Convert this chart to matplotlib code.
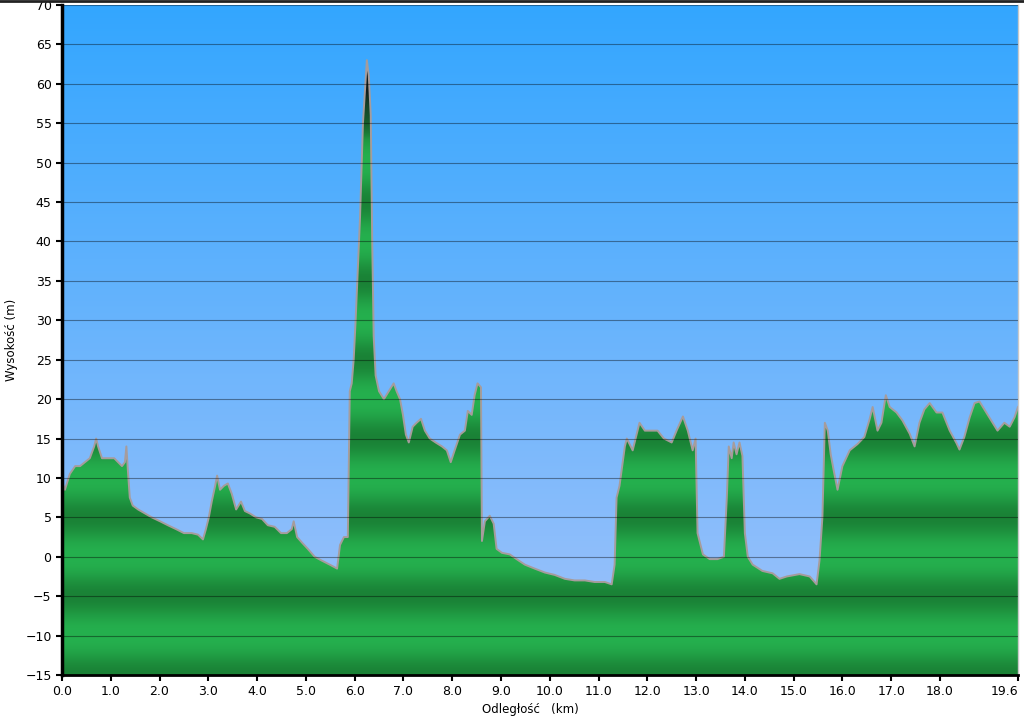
import numpy as np
import matplotlib
matplotlib.use("Agg")
import matplotlib.pyplot as plt
from matplotlib.colors import LinearSegmentedColormap, to_rgb
from matplotlib.patches import Polygon
from matplotlib.lines import Line2D

# profile: distance (km) and elevation (m)
dist_km = [
    0.00, 0.06, 0.16, 0.27, 0.37, 0.47, 0.57, 0.66, 0.70, 0.74, 0.82, 0.90, 0.98,
    1.07, 1.15, 1.23, 1.29, 1.32, 1.35, 1.39, 1.45, 1.56, 1.70, 1.84, 2.01, 2.17,
    2.34, 2.50, 2.66, 2.79, 2.89, 2.95, 3.01, 3.07, 3.14, 3.18, 3.24, 3.32, 3.40,
    3.48, 3.57, 3.67, 3.75, 3.85, 3.98, 4.10, 4.22, 4.36, 4.49, 4.61, 4.71, 4.75,
    4.82, 4.92, 5.04, 5.18, 5.33, 5.49, 5.64, 5.70, 5.78, 5.86, 5.90, 5.94, 5.98,
    6.02, 6.11, 6.17, 6.23, 6.25, 6.29, 6.33, 6.36, 6.39, 6.43, 6.50, 6.60, 6.70,
    6.80, 6.86, 6.93, 6.99, 7.05, 7.11, 7.19, 7.27, 7.36, 7.44, 7.54, 7.66, 7.79,
    7.89, 7.97, 8.05, 8.16, 8.26, 8.32, 8.40, 8.46, 8.52, 8.59, 8.61, 8.67, 8.77,
    8.85, 8.91, 9.02, 9.18, 9.32, 9.49, 9.69, 9.90, 10.10, 10.31, 10.51, 10.72,
    10.92, 11.13, 11.27, 11.33, 11.37, 11.43, 11.54, 11.58, 11.70, 11.84, 11.95,
    12.09, 12.21, 12.34, 12.50, 12.60, 12.73, 12.83, 12.93, 12.99, 13.03, 13.14,
    13.28, 13.44, 13.57, 13.63, 13.67, 13.73, 13.77, 13.83, 13.89, 13.95, 14.00,
    14.06, 14.16, 14.36, 14.57, 14.71, 14.86, 15.12, 15.33, 15.47, 15.53, 15.59,
    15.64, 15.70, 15.76, 15.82, 15.90, 16.00, 16.15, 16.31, 16.45, 16.56, 16.62,
    16.72, 16.80, 16.89, 16.97, 17.11, 17.23, 17.38, 17.48, 17.58, 17.68, 17.79,
    17.93, 18.05, 18.20, 18.34, 18.40, 18.50, 18.61, 18.71, 18.81, 18.95, 19.08,
    19.18, 19.32, 19.43, 19.53, 19.60,
]
elev_m = [
    9.5, 8.5, 10.5, 11.5, 11.5, 12.0, 12.5, 14.0, 15.0, 14.0, 12.5, 12.5, 12.5,
    12.5, 12.0, 11.5, 12.0, 14.0, 11.0, 7.5, 6.5, 6.0, 5.5, 5.0, 4.5, 4.0,
    3.5, 3.0, 3.0, 2.8, 2.2, 3.5, 5.0, 7.0, 9.0, 10.3, 8.5, 9.0, 9.3,
    8.0, 6.0, 7.0, 5.8, 5.5, 5.0, 4.8, 4.0, 3.8, 3.0, 3.0, 3.5, 4.5,
    2.5, 1.8, 1.0, 0.0, -0.5, -1.0, -1.5, 1.5, 2.5, 2.5, 21.0, 22.0, 25.0,
    30.0, 43.0, 55.0, 61.0, 63.0, 61.0, 56.0, 40.0, 28.0, 23.0, 21.0, 20.0, 21.0,
    22.0, 21.0, 20.0, 18.0, 15.5, 14.5, 16.5, 17.0, 17.5, 16.0, 15.0, 14.5, 14.0,
    13.5, 12.0, 13.5, 15.5, 16.0, 18.5, 18.0, 20.5, 22.0, 21.5, 2.0, 4.5, 5.2,
    4.2, 1.0, 0.5, 0.3, -0.3, -1.0, -1.5, -2.0, -2.3, -2.8, -3.0, -3.0,
    -3.2, -3.2, -3.5, -1.0, 7.5, 9.0, 14.0, 15.0, 13.5, 17.0, 16.0,
    16.0, 16.0, 15.0, 14.5, 16.0, 17.8, 16.0, 13.5, 15.0, 3.0, 0.3,
    -0.3, -0.3, 0.0, 7.5, 14.0, 12.5, 14.5, 13.0, 14.5, 12.8, 3.0,
    0.0, -1.0, -1.8, -2.1, -2.8, -2.5, -2.2, -2.5, -3.5, -0.5, 5.0,
    17.0, 16.0, 13.0, 11.0, 8.5, 11.5, 13.5, 14.3, 15.2, 17.5, 19.0,
    16.0, 17.0, 20.5, 19.0, 18.3, 17.3, 15.6, 14.0, 17.0, 18.7, 19.5,
    18.3, 18.3, 16.0, 14.4, 13.6, 15.2, 17.7, 19.5, 19.7, 18.3, 17.0,
    16.0, 17.0, 16.5, 17.7, 19.0,
]

x_ticks = [0, 1, 2, 3, 4, 5, 6, 7, 8, 9, 10, 11, 12, 13, 14, 15, 16, 17, 18, 19.6]
x_labels = ["%.1f" % t for t in x_ticks]
y_ticks = list(range(-15, 71, 5))

XMAX, YMIN, YMAX = 19.6, -15, 70

fig = plt.figure(figsize=(10.24, 7.21), dpi=100)
ax = fig.add_axes([62 / 1024, 46 / 721, 956 / 1024, 670 / 721])

# sky gradient behind the profile
sky = LinearSegmentedColormap.from_list("sky", ["#a2c3fa", "#33a6ff"])
ax.imshow(np.linspace(0, 1, 256).reshape(-1, 1), extent=[0, XMAX, YMIN, YMAX],
          origin="lower", cmap=sky, aspect="auto", zorder=0)

# banded green fill, dark every 10 m, darkening to black near the summit
levels = np.linspace(YMIN, YMAX, 1200)
light = np.array(to_rgb("#25b04e"))
dark = np.array(to_rgb("#1a8236"))
top = np.array(to_rgb("#0e1c1c"))
phase = ((levels - YMIN) % 10) / 10.0
d = ((np.cos(2 * np.pi * phase) + 1) / 2) ** 1.3
rgb = light[None, :] * (1 - d[:, None]) + dark[None, :] * d[:, None]
t = np.clip((levels - 53) / 6.0, 0, 1)[:, None]
rgb = rgb * (1 - t) + top[None, :] * t
green = np.repeat(rgb[:, None, :], 2, axis=1)
img = ax.imshow(green, extent=[0, XMAX, YMIN, YMAX], origin="lower",
                aspect="auto", zorder=1)

verts = np.column_stack([np.r_[dist_km[0], dist_km, dist_km[-1]],
                         np.r_[YMIN, elev_m, YMIN]])
shape = Polygon(verts, closed=True, facecolor="none", edgecolor="none",
                transform=ax.transData)
ax.add_patch(shape)
img.set_clip_path(shape)

ax.plot(dist_km, elev_m, color="#a69c9c", lw=1.4, zorder=2)

ax.set_xlim(0, XMAX)
ax.set_ylim(YMIN, YMAX)
ax.set_xticks(x_ticks)
ax.set_xticklabels(x_labels)
ax.get_xticklabels()[-1].set_horizontalalignment("right")
ax.set_yticks(y_ticks)
ax.set_axisbelow(False)
ax.grid(axis="y", color="black", alpha=0.4, lw=0.8)
ax.grid(axis="x", visible=False)

ax.tick_params(direction="out", length=4, width=1.5, labelsize=9, colors="black")
ax.spines["top"].set_visible(False)
ax.spines["right"].set_color("#c8c8c8")
ax.spines["right"].set_linewidth(1)
ax.spines["left"].set_linewidth(2.5)
ax.spines["bottom"].set_linewidth(2)

ax.set_ylabel("Wysokość (m)", fontsize=8.5)
ax.yaxis.set_label_coords(-0.046, 0.5)
ax.set_xlabel("Odległość   (km)", fontsize=8.5)
ax.xaxis.set_label_coords(0.49, -0.042)

fig.add_artist(Line2D([0, 1], [0.999, 0.999], color="#222222", lw=2,
                      transform=fig.transFigure))

fig.savefig("out.png", dpi=100)
